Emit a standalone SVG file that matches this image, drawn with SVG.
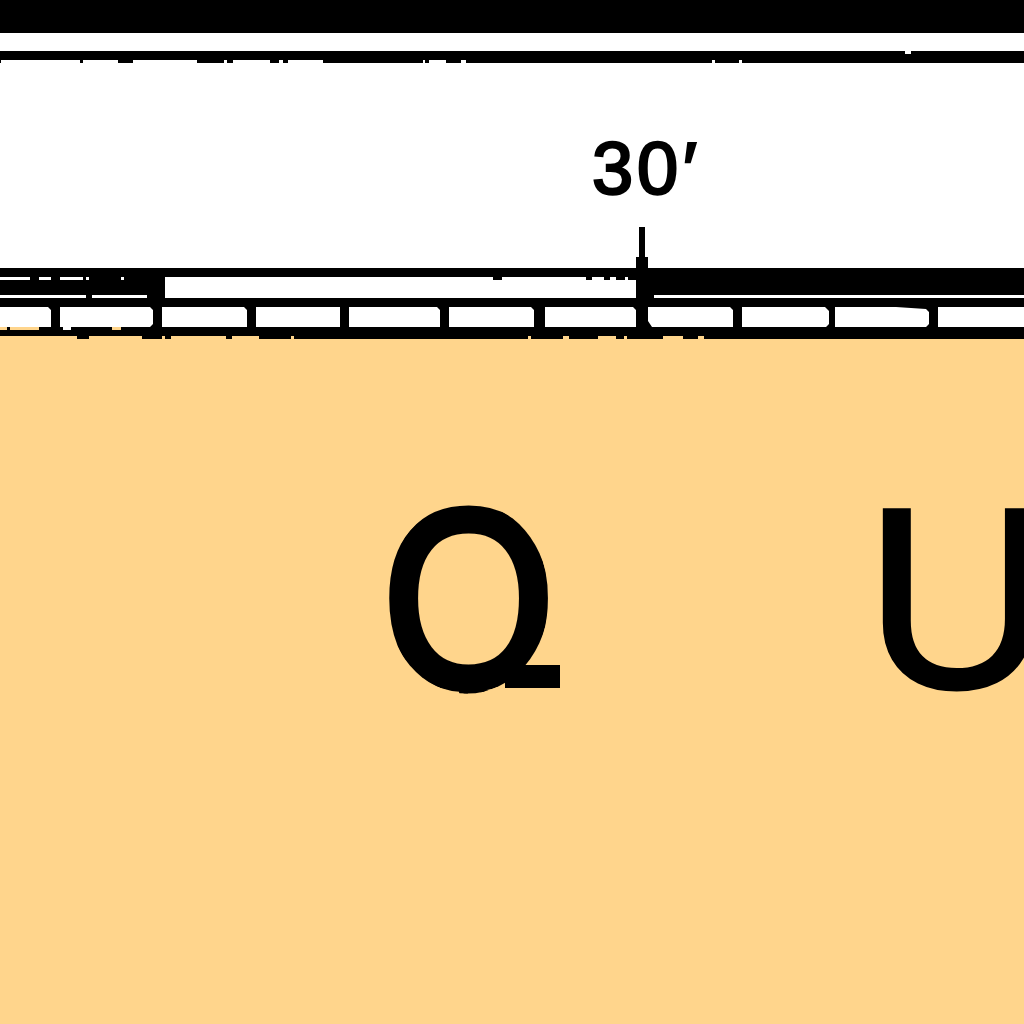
<svg xmlns="http://www.w3.org/2000/svg" width="1024" height="1024" viewBox="0 0 1024 1024">
<style>
.k{fill:#000}.w{fill:#fff}.t{fill:#FFD58C}
.big{font-family:"Liberation Sans",Arial,sans-serif;font-size:257px;fill:#000;stroke:#000;stroke-width:4}
.lab{font-family:"Liberation Sans",Arial,sans-serif;font-size:74px;fill:#000;stroke:#000;stroke-width:2.5}
</style>
<defs><clipPath id="bowl"><ellipse cx="467.5" cy="598" rx="81.5" ry="95.5"/></clipPath></defs>
<rect width="1024" height="1024" class="w"/>
<rect y="339" width="1024" height="685" class="t"/>
<rect width="1024" height="33" class="k"/>
<rect y="51" width="1024" height="12" class="k"/>
<path class="w" d="M1 60H80V63H1ZM83 60H118V63H83ZM133 60H197V63H133ZM224 60H227V63H224ZM233 60H270V63H233ZM279 60H283V63H279ZM288 60H323V63H288ZM423 60H425V63H423ZM429 60H446V63H429ZM461 60H466V63H461ZM712 60H715V63H712ZM739 60H742V63H739ZM905 51H911V54H905Z"/>
<rect y="268" width="1024" height="9" class="k"/>
<rect y="277" width="165" height="21" class="k"/>
<rect x="636" y="268" width="388" height="27" class="k"/>
<rect y="298" width="1024" height="41" class="k"/>
<path class="k" d="M493 277H502V280H493ZM586 277H592V280H586ZM604 277H610V280H604ZM616 277H625V280H616ZM628 277H636V280H628Z"/>
<path class="w" d="M0 277H30V280H0ZM39 277H51V280H39ZM60 277H83V280H60ZM86 277H89V280H86ZM121 277H124V280H121ZM0 295H86V298H0ZM92 295H147V298H92ZM654 295H996V298H654ZM1002 295H1024V298H1002Z"/>
<path class="w" d="M0 307H48L51 310V327H0ZM60 307H150L153 310V324L150 327H60ZM162 307H244L247 310V327H162ZM256 307H340V327H256ZM349 307H437L440 310V327H349ZM449 307H531L534 310V327H449ZM545 307H633L636 310V327H545ZM648 307H730L733 310V327H652L648 321ZM742 307H825L829 311V324L826 327H742ZM835 307H896L926 309L929 312V324L926 327H835ZM938 307H1024V327H938ZM63 327H71V330H63Z"/>
<path class="t" d="M0 327H7V330H0ZM10 327H39V330H10ZM112 327H121V330H112ZM0 336H77V339H0ZM89 336H142V339H89ZM162 336H165V339H162ZM171 336H226V339H171ZM232 336H259V339H232ZM291 336H294V339H291ZM528 336H531V339H528ZM563 336H569V339H563ZM598 336H616V339H598ZM624 336H627V339H624ZM663 336H683V339H663ZM698 336H704V339H698Z"/>
<path class="k" d="M639 227H645V257H648V268H652V277H654V298H636V257H639Z"/>
<rect x="636" y="298" width="12" height="33" class="k"/>
<text class="lab" x="592 637 683" y="194">30′</text>
<g clip-path="url(#bowl)"><text class="big" transform="translate(382.7 685.5) scale(.883 1)" style="font-size:250px;stroke-width:9" x="0" y="0">Q</text></g>
<rect x="505" y="665" width="55" height="23" class="k"/>
<text class="big" x="865" y="687">U</text>
</svg>
